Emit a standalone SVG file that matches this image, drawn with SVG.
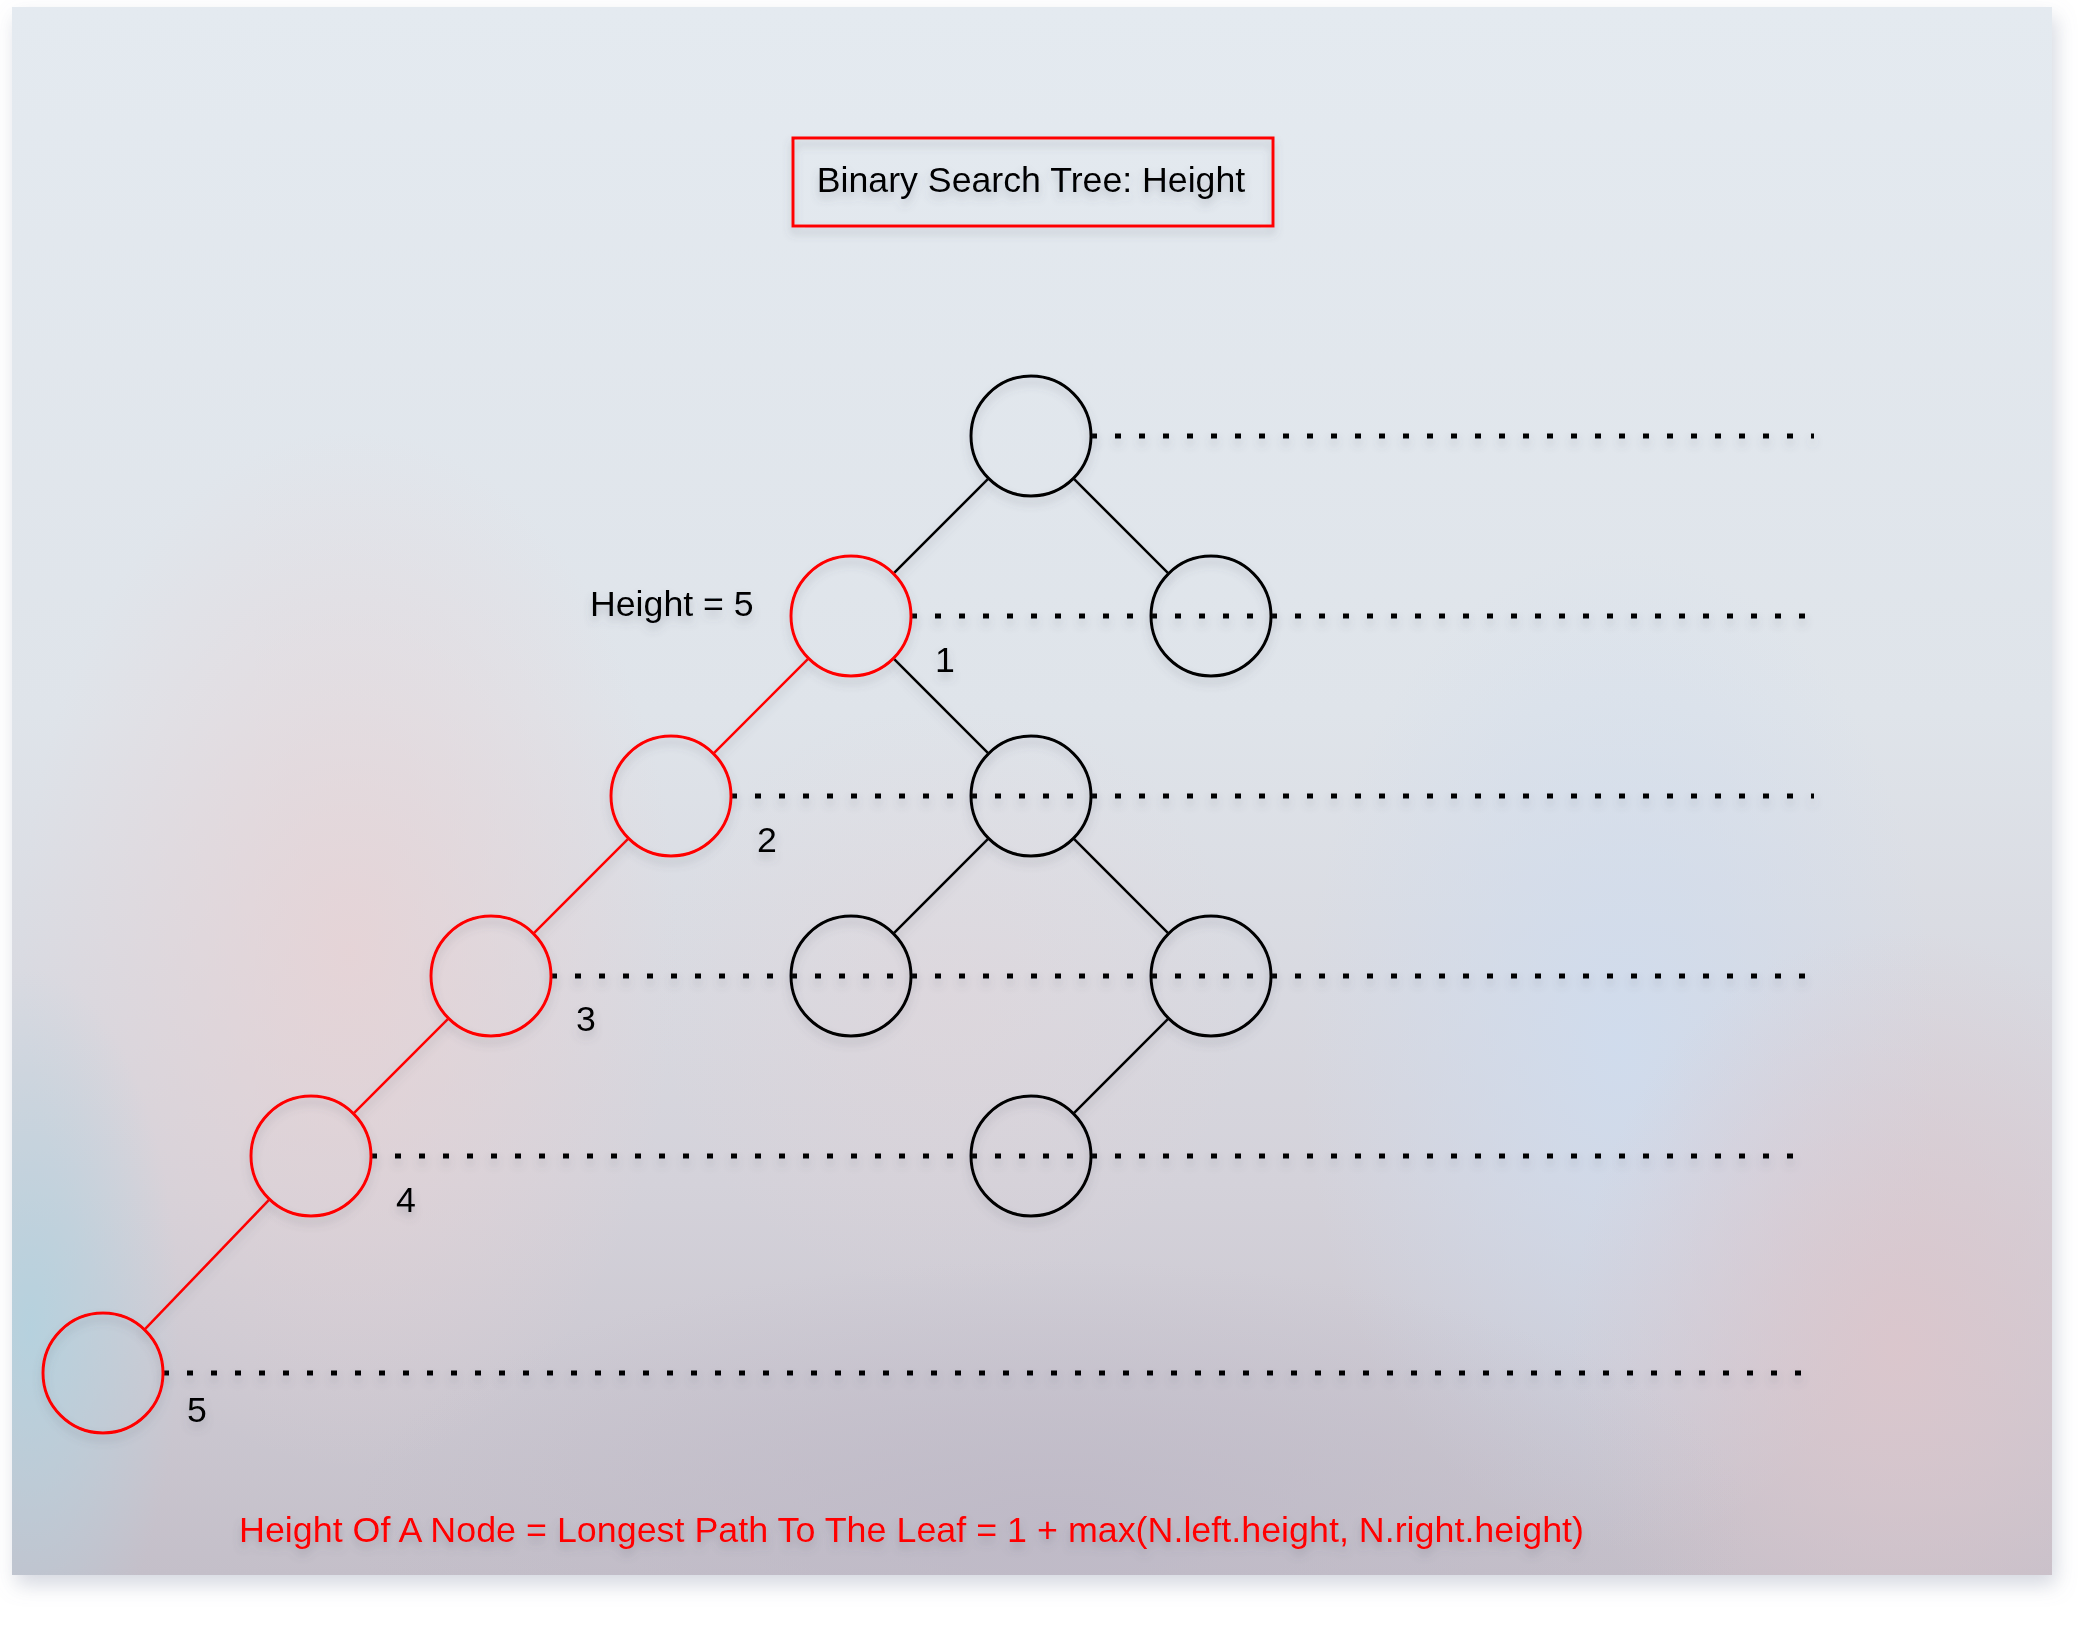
<svg xmlns="http://www.w3.org/2000/svg" width="2085" height="1632" viewBox="0 0 2085 1632">
<defs>
  <linearGradient id="bg" x1="0" y1="0" x2="0" y2="1">
    <stop offset="0" stop-color="#e4eaf0"/>
    <stop offset="0.45" stop-color="#dfe4ea"/>
    <stop offset="0.75" stop-color="#d4d2da"/>
    <stop offset="1" stop-color="#c4bfc9"/>
  </linearGradient>
  <radialGradient id="pinkL" cx="0.5" cy="0.5" r="0.5">
    <stop offset="0" stop-color="#e8d2d4" stop-opacity="0.8"/>
    <stop offset="1" stop-color="#e8d2d4" stop-opacity="0"/>
  </radialGradient>
  <radialGradient id="blueBL" cx="0.5" cy="0.5" r="0.5">
    <stop offset="0" stop-color="#b3d2df" stop-opacity="0.9"/>
    <stop offset="1" stop-color="#b3d2df" stop-opacity="0"/>
  </radialGradient>
  <radialGradient id="blueR" cx="0.5" cy="0.5" r="0.5">
    <stop offset="0" stop-color="#cfdcee" stop-opacity="0.9"/>
    <stop offset="1" stop-color="#cfdcee" stop-opacity="0"/>
  </radialGradient>
  <radialGradient id="pinkR" cx="0.5" cy="0.5" r="0.5">
    <stop offset="0" stop-color="#dcc6cc" stop-opacity="0.9"/>
    <stop offset="1" stop-color="#dcc6cc" stop-opacity="0"/>
  </radialGradient>
  <radialGradient id="greyB" cx="0.5" cy="0.5" r="0.5">
    <stop offset="0" stop-color="#bdb8c6" stop-opacity="0.8"/>
    <stop offset="1" stop-color="#bdb8c6" stop-opacity="0"/>
  </radialGradient>
  <filter id="panelShadow" x="-5%" y="-5%" width="110%" height="110%">
    <feDropShadow dx="4" dy="10" stdDeviation="10" flood-color="#8890a8" flood-opacity="0.35"/>
  </filter>
  <filter id="sh" x="-20%" y="-20%" width="140%" height="160%">
    <feDropShadow dx="0" dy="6" stdDeviation="4" flood-color="#5a6070" flood-opacity="0.3"/>
  </filter>
  <clipPath id="panelClip"><rect x="12" y="7" width="2040" height="1568"/></clipPath>
  <style>
    .node { fill: none; stroke-width: 3; }
    .blk { stroke: #000; }
    .red { stroke: #ff0000; }
    .edge { stroke-width: 2.6; fill: none; }
    .dot { stroke: #000; stroke-width: 5; stroke-dasharray: 6 18; fill: none; }
    .lbl { font-family: "Liberation Sans", Arial, sans-serif; font-size: 35.7px; fill: #000; }
    .redtxt { fill: #ff0000; }
  </style>
</defs>

<rect x="0" y="0" width="2085" height="1632" fill="#ffffff"/>
<rect x="12" y="7" width="2040" height="1568" fill="url(#bg)" filter="url(#panelShadow)"/>
<g clip-path="url(#panelClip)">
  <ellipse cx="350" cy="950" rx="330" ry="520" fill="url(#pinkL)"/>
  <ellipse cx="30" cy="1330" rx="150" ry="360" fill="url(#blueBL)"/>
  <ellipse cx="1620" cy="1050" rx="320" ry="500" fill="url(#blueR)"/>
  <ellipse cx="1900" cy="1350" rx="330" ry="420" fill="url(#pinkR)"/>
  <ellipse cx="1050" cy="1520" rx="700" ry="260" fill="url(#greyB)"/>
  <ellipse cx="950" cy="1000" rx="300" ry="300" fill="url(#pinkL)" opacity="0.35"/>
</g>

<g id="title" filter="url(#sh)">
  <rect x="793" y="138" width="480" height="88" fill="none" stroke="#ff0000" stroke-width="3"/>
  <text class="lbl" x="1031" y="192" text-anchor="middle">Binary Search Tree: Height</text>
</g>

<g id="levels" filter="url(#sh)">
  <line class="dot" x1="1091" y1="436" x2="1814" y2="436"/>
  <line class="dot" x1="911" y1="616" x2="1808" y2="616"/>
  <line class="dot" x1="731" y1="796" x2="1814" y2="796"/>
  <line class="dot" x1="551" y1="976" x2="1808" y2="976"/>
  <line class="dot" x1="371" y1="1156" x2="1798" y2="1156"/>
  <line class="dot" x1="163" y1="1373" x2="1802" y2="1373"/>
</g>

<g id="connectors" filter="url(#sh)">
  <line class="edge" stroke="#000" x1="988.6" y1="478.4" x2="893.4" y2="573.6"/>
  <line class="edge" stroke="#000" x1="1073.4" y1="478.4" x2="1168.6" y2="573.6"/>
  <line class="edge" stroke="#000" x1="893.4" y1="658.4" x2="988.6" y2="753.6"/>
  <line class="edge" stroke="#ff0000" x1="808.6" y1="658.4" x2="713.4" y2="753.6"/>
  <line class="edge" stroke="#000" x1="988.6" y1="838.4" x2="893.4" y2="933.6"/>
  <line class="edge" stroke="#000" x1="1073.4" y1="838.4" x2="1168.6" y2="933.6"/>
  <line class="edge" stroke="#ff0000" x1="628.6" y1="838.4" x2="533.4" y2="933.6"/>
  <line class="edge" stroke="#000" x1="1168.6" y1="1018.4" x2="1073.4" y2="1113.6"/>
  <line class="edge" stroke="#ff0000" x1="448.6" y1="1018.4" x2="353.4" y2="1113.6"/>
  <line class="edge" stroke="#ff0000" x1="269.5" y1="1199.3" x2="144.5" y2="1329.7"/>
</g>

<g id="n-root" filter="url(#sh)"><circle class="node blk" cx="1031" cy="436" r="60"/></g>
<g id="n-l1" filter="url(#sh)"><circle class="node red" cx="851" cy="616" r="60"/></g>
<g id="n-r1" filter="url(#sh)"><circle class="node blk" cx="1211" cy="616" r="60"/></g>
<g id="n-l2" filter="url(#sh)"><circle class="node red" cx="671" cy="796" r="60"/></g>
<g id="n-m2" filter="url(#sh)"><circle class="node blk" cx="1031" cy="796" r="60"/></g>
<g id="n-l3" filter="url(#sh)"><circle class="node red" cx="491" cy="976" r="60"/></g>
<g id="n-m3" filter="url(#sh)"><circle class="node blk" cx="851" cy="976" r="60"/></g>
<g id="n-r3" filter="url(#sh)"><circle class="node blk" cx="1211" cy="976" r="60"/></g>
<g id="n-l4" filter="url(#sh)"><circle class="node red" cx="311" cy="1156" r="60"/></g>
<g id="n-m4" filter="url(#sh)"><circle class="node blk" cx="1031" cy="1156" r="60"/></g>
<g id="n-l5" filter="url(#sh)"><circle class="node red" cx="103" cy="1373" r="60"/></g>

<g id="labels" filter="url(#sh)">
  <text class="lbl" x="590" y="616">Height = 5</text>
  <text class="lbl" x="935" y="672">1</text>
  <text class="lbl" x="757" y="852">2</text>
  <text class="lbl" x="576" y="1031">3</text>
  <text class="lbl" x="396" y="1212">4</text>
  <text class="lbl" x="187" y="1422">5</text>
  <text class="lbl redtxt" x="239" y="1542" textLength="1345" lengthAdjust="spacingAndGlyphs">Height Of A Node = Longest Path To The Leaf = 1 + max(N.left.height, N.right.height)</text>
</g>
</svg>
